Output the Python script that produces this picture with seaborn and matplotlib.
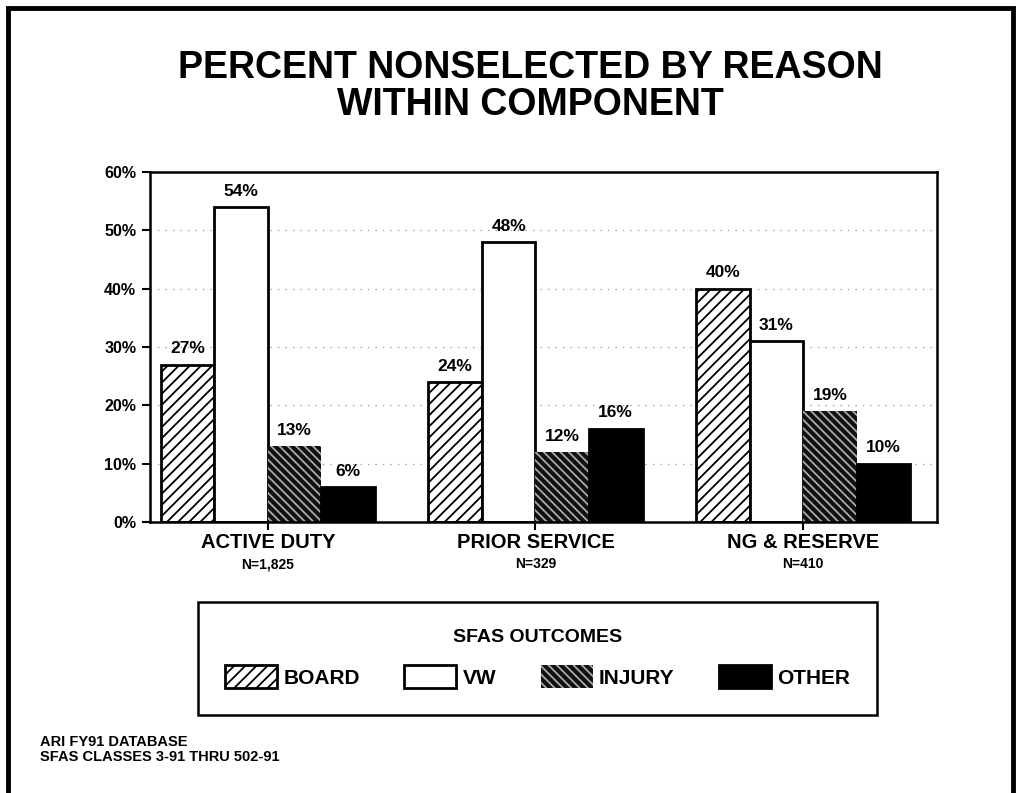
import matplotlib
matplotlib.use("Agg")
import matplotlib.pyplot as plt
import seaborn as sns
import pandas as pd
from matplotlib.patches import Rectangle, Patch

components = ["ACTIVE DUTY", "PRIOR SERVICE", "NG & RESERVE"]
n_labels = ["N=1,825", "N=329", "N=410"]
reasons = ["BOARD", "VW", "INJURY", "OTHER"]
board = [27, 24, 40]
vw = [54, 48, 31]
injury = [13, 12, 19]
other = [6, 16, 10]
yticks = [0, 10, 20, 30, 40, 50, 60]
ytick_labels = ["0%", "10%", "20%", "30%", "40%", "50%", "60%"]

rows = []
for reason, vals in zip(reasons, [board, vw, injury, other]):
    for comp, v in zip(components, vals):
        rows.append({"component": comp, "reason": reason, "pct": v})
df = pd.DataFrame(rows)

sns.set_theme(style="white")
plt.rcParams["font.family"] = ["Liberation Sans", "DejaVu Sans"]
plt.rcParams["text.color"] = "black"
plt.rcParams["axes.labelcolor"] = "black"
plt.rcParams["xtick.color"] = "black"
plt.rcParams["ytick.color"] = "black"
plt.rcParams["hatch.linewidth"] = 1.3

fig = plt.figure(figsize=(10.17, 7.93), dpi=100)
ax = fig.add_axes([0.1475, 0.3417, 0.7738, 0.4414])

palette = {"BOARD": "white", "VW": "white", "INJURY": "#1a1a1a", "OTHER": "black"}
sns.barplot(data=df, x="component", y="pct", hue="reason", order=components,
            hue_order=reasons, palette=palette, ax=ax, width=0.8, gap=0,
            edgecolor="black", linewidth=2, saturation=1, legend=False)

styles = {
    "BOARD": dict(fc="white", ec="black", hatch="///", lw=2),
    "VW": dict(fc="white", ec="black", hatch=None, lw=2),
    "INJURY": dict(fc="#111111", ec="#aaaaaa", hatch="\\\\\\\\", lw=0),
    "OTHER": dict(fc="black", ec="black", hatch=None, lw=2),
}
for reason, cont in zip(reasons, ax.containers):
    st = styles[reason]
    for p in cont.patches:
        p.set_facecolor(st["fc"])
        p.set_edgecolor(st["ec"])
        p.set_linewidth(st["lw"])
        if st["hatch"]:
            p.set_hatch(st["hatch"])
    ax.bar_label(cont, labels=[f"{int(v)}%" for v in cont.datavalues],
                 padding=6, fontsize=12.5, fontweight="heavy", color="black")

ax.set_xlim(-0.44, 2.5)
ax.set_ylim(0, 60)
ax.set_yticks(yticks)
ax.set_yticklabels(ytick_labels, fontsize=11.5, fontweight="heavy")
ax.set_xticks(range(len(components)))
ax.set_xticklabels(components, fontsize=14.5, fontweight="bold")
ax.set_xlabel("")
ax.set_ylabel("")
ax.tick_params(axis="both", direction="out", length=6, width=1.5, color="black",
               bottom=True, left=True, pad=4)
ax.tick_params(axis="x", pad=2)
for s in ax.spines.values():
    s.set_visible(True)
    s.set_color("black")
    s.set_linewidth(1.8)
ax.yaxis.grid(True, color="#999999", linestyle=(0, (1, 5)), linewidth=0.9)
ax.set_axisbelow(True)

for i, lab in enumerate(n_labels):
    ax.text(i, -0.1, lab, transform=ax.get_xaxis_transform(), ha="center",
            va="top", fontsize=10, fontweight="bold")

fig.text(0.522, 0.914, "PERCENT NONSELECTED BY REASON", ha="center",
         va="center", fontsize=27, fontweight="bold")
fig.text(0.522, 0.867, "WITHIN COMPONENT", ha="center", va="center",
         fontsize=27, fontweight="bold")

leg_handles = []
for reason in reasons:
    st = styles[reason]
    leg_handles.append(Patch(facecolor=st["fc"],
                             edgecolor=st["ec"] if reason != "VW" else "black",
                             hatch=st["hatch"], linewidth=st["lw"]))
leg = fig.legend(leg_handles, reasons, loc="lower left",
                 bbox_to_anchor=(0.1947, 0.0984, 0.6677, 0.1475), mode="expand",
                 borderaxespad=0,
                 ncol=4, frameon=True, fancybox=False, edgecolor="black",
                 framealpha=1, title="SFAS OUTCOMES", handlelength=2.5,
                 handleheight=1.3, handletextpad=0.3, borderpad=1.3,
                 prop={"size": 15, "weight": "bold"},
                 title_fontproperties={"size": 14, "weight": "bold"})
leg.get_frame().set_linewidth(1.8)
leg._legend_box.sep = 14

fig.text(0.039, 0.055, "ARI FY91 DATABASE\nSFAS CLASSES 3-91 THRU 502-91",
         ha="left", va="center", fontsize=10.5, fontweight="heavy",
         linespacing=1.15)

border = Rectangle((0.008, -0.05), 0.988, 1.04, transform=fig.transFigure,
                   fill=False, edgecolor="black", linewidth=3.5, clip_on=False)
fig.patches.append(border)

fig.savefig("out.png", dpi=100, facecolor="white")
